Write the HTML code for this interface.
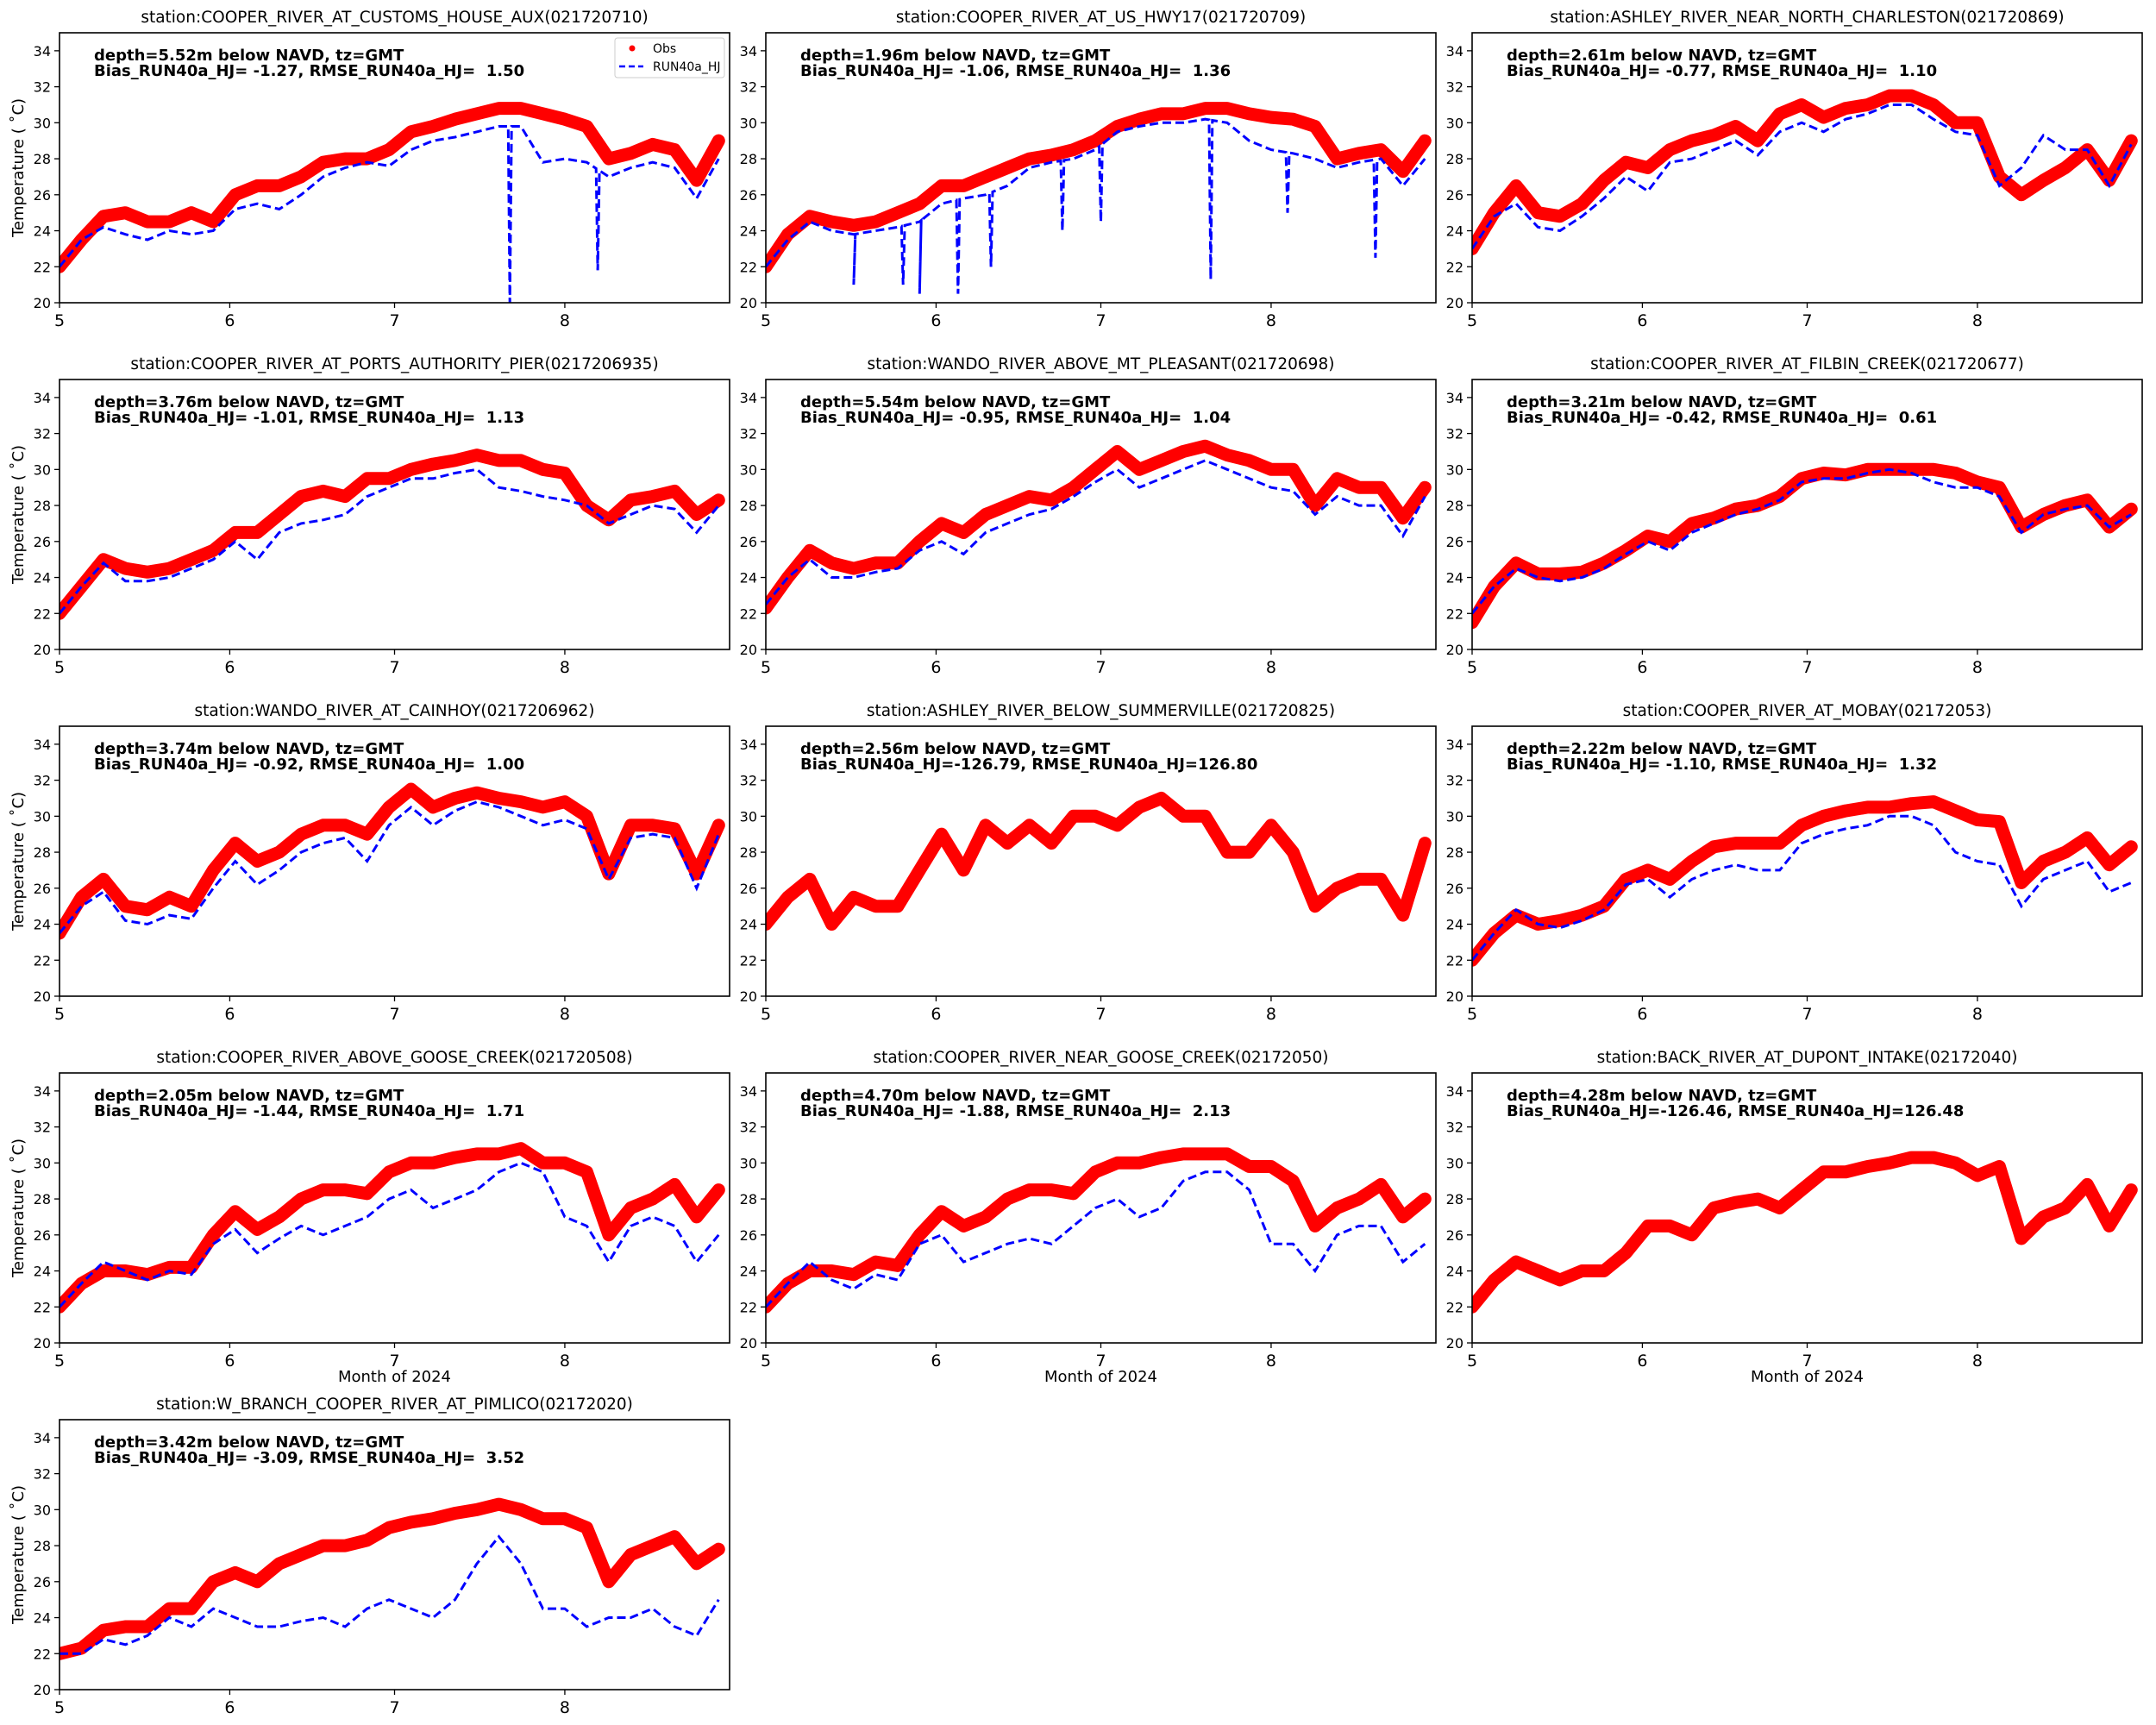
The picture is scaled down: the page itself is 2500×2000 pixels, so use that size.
<!DOCTYPE html>
<html><head><meta charset="utf-8"><style>
html,body{margin:0;padding:0;background:#fff}
svg{display:block}
text{font-family:"DejaVu Sans","Liberation Sans",sans-serif;fill:#000}
</style></head><body>
<svg id="fig" width="2500" height="2000" viewBox="0 0 2500 2000" xmlns="http://www.w3.org/2000/svg"></svg>
<script>
const sampleDays = [0,4,8,12,16,20,24,28,32,36,40,44,48,52,56,60,64,68,72,76,80,84,88,92,96,100,104,108,112,116,120];
const yTicks = [20,22,24,26,28,30,32,34];
const xTickLabels = ['5','6','7','8'];
const xTickDays = [0,31,61,92];
const stationNames = [
 'station:COOPER_RIVER_AT_CUSTOMS_HOUSE_AUX(021720710)',
 'station:COOPER_RIVER_AT_US_HWY17(021720709)',
 'station:ASHLEY_RIVER_NEAR_NORTH_CHARLESTON(021720869)',
 'station:COOPER_RIVER_AT_PORTS_AUTHORITY_PIER(0217206935)',
 'station:WANDO_RIVER_ABOVE_MT_PLEASANT(021720698)',
 'station:COOPER_RIVER_AT_FILBIN_CREEK(021720677)',
 'station:WANDO_RIVER_AT_CAINHOY(0217206962)',
 'station:ASHLEY_RIVER_BELOW_SUMMERVILLE(021720825)',
 'station:COOPER_RIVER_AT_MOBAY(02172053)',
 'station:COOPER_RIVER_ABOVE_GOOSE_CREEK(021720508)',
 'station:COOPER_RIVER_NEAR_GOOSE_CREEK(02172050)',
 'station:BACK_RIVER_AT_DUPONT_INTAKE(02172040)',
 'station:W_BRANCH_COOPER_RIVER_AT_PIMLICO(02172020)'];
const depthLabels = ['5.52','1.96','2.61','3.76','5.54','3.21','3.74','2.56','2.22','2.05','4.70','4.28','3.42'];
const statLabels = [
 'Bias_RUN40a_HJ= -1.27, RMSE_RUN40a_HJ=  1.50',
 'Bias_RUN40a_HJ= -1.06, RMSE_RUN40a_HJ=  1.36',
 'Bias_RUN40a_HJ= -0.77, RMSE_RUN40a_HJ=  1.10',
 'Bias_RUN40a_HJ= -1.01, RMSE_RUN40a_HJ=  1.13',
 'Bias_RUN40a_HJ= -0.95, RMSE_RUN40a_HJ=  1.04',
 'Bias_RUN40a_HJ= -0.42, RMSE_RUN40a_HJ=  0.61',
 'Bias_RUN40a_HJ= -0.92, RMSE_RUN40a_HJ=  1.00',
 'Bias_RUN40a_HJ=-126.79, RMSE_RUN40a_HJ=126.80',
 'Bias_RUN40a_HJ= -1.10, RMSE_RUN40a_HJ=  1.32',
 'Bias_RUN40a_HJ= -1.44, RMSE_RUN40a_HJ=  1.71',
 'Bias_RUN40a_HJ= -1.88, RMSE_RUN40a_HJ=  2.13',
 'Bias_RUN40a_HJ=-126.46, RMSE_RUN40a_HJ=126.48',
 'Bias_RUN40a_HJ= -3.09, RMSE_RUN40a_HJ=  3.52'];
const obs1=[22,23.5,24.8,25,24.5,24.5,25,24.5,26,26.5,26.5,27,27.8,28,28,28.5,29.5,29.8,30.2,30.5,30.8,30.8,30.5,30.2,29.8,28,28.3,28.8,28.5,26.8,29];
const mod1=[22,23.5,24.2,23.8,23.5,24,23.8,24,25.2,25.5,25.2,26,27,27.5,27.8,27.6,28.5,29,29.2,29.5,29.8,29.8,27.8,28,27.8,27,27.5,27.8,27.5,25.8,28];
const obs2=[22,23.8,24.8,24.5,24.3,24.5,25,25.5,26.5,26.5,27,27.5,28,28.2,28.5,29,29.8,30.2,30.5,30.5,30.8,30.8,30.5,30.3,30.2,29.8,28,28.3,28.5,27.3,29];
const mod2=[22,23.5,24.5,24,23.8,24,24.2,24.5,25.5,25.8,26,26.5,27.5,27.8,28,28.5,29.5,29.8,30,30,30.2,30,29,28.5,28.3,28,27.5,27.8,28,26.5,28];
const obs3=[23,25,26.5,25,24.8,25.5,26.8,27.8,27.5,28.5,29,29.3,29.8,29,30.5,31,30.3,30.8,31,31.5,31.5,31,30,30,27,26,26.8,27.5,28.5,26.8,29];
const mod3=[23,24.8,25.5,24.2,24,24.8,25.8,27,26.2,27.8,28,28.5,29,28.2,29.5,30,29.5,30.2,30.5,31,31,30.2,29.5,29.3,26.5,27.5,29.3,28.5,28.5,26.5,28.8];
const obs4=[22,23.5,25,24.5,24.3,24.5,25,25.5,26.5,26.5,27.5,28.5,28.8,28.5,29.5,29.5,30,30.3,30.5,30.8,30.5,30.5,30,29.8,28,27.2,28.3,28.5,28.8,27.5,28.3];
const mod4=[22,23.5,24.8,23.8,23.8,24,24.5,25,26,25,26.5,27,27.2,27.5,28.5,29,29.5,29.5,29.8,30,29,28.8,28.5,28.3,28,27,27.5,28,27.8,26.5,28];
const obs5=[22.3,24,25.5,24.8,24.5,24.8,24.8,26,27,26.5,27.5,28,28.5,28.3,29,30,31,30,30.5,31,31.3,30.8,30.5,30,30,28,29.5,29,29,27.3,29];
const mod5=[22.5,24,25,24,24,24.3,24.5,25.5,26,25.3,26.5,27,27.5,27.8,28.5,29.3,30,29,29.5,30,30.5,30,29.5,29,28.8,27.5,28.5,28,28,26.3,28.5];
const obs6=[21.5,23.5,24.8,24.2,24.2,24.3,24.8,25.5,26.3,26,27,27.3,27.8,28,28.5,29.5,29.8,29.7,30,30,30,30,29.8,29.3,29,26.8,27.5,28,28.3,26.8,27.8];
const mod6=[22,23.5,24.5,24,23.8,24,24.5,25.3,26,25.5,26.5,27,27.5,27.8,28.3,29.3,29.5,29.5,29.8,30,29.8,29.3,29,29,28.5,26.5,27.5,27.8,28,26.8,27.5];
const obs7=[23.5,25.5,26.5,25,24.8,25.5,25,27,28.5,27.5,28,29,29.5,29.5,29,30.5,31.5,30.5,31,31.3,31,30.8,30.5,30.8,30,26.8,29.5,29.5,29.3,26.8,29.5];
const mod7=[23.5,25,25.8,24.2,24,24.5,24.3,26,27.5,26.2,27,28,28.5,28.8,27.5,29.5,30.5,29.5,30.3,30.8,30.5,30,29.5,29.8,29.3,26.5,28.8,29,28.8,26,29];
const obs8=[24,25.5,26.5,24,25.5,25,25,27,29,27,29.5,28.5,29.5,28.5,30,30,29.5,30.5,31,30,30,28,28,29.5,28,25,26,26.5,26.5,24.5,28.5];
const mod8=null;
const obs9=[22,23.5,24.5,24,24.2,24.5,25,26.5,27,26.5,27.5,28.3,28.5,28.5,28.5,29.5,30,30.3,30.5,30.5,30.7,30.8,30.3,29.8,29.7,26.3,27.5,28,28.8,27.3,28.3];
const mod9=[22,23.5,24.8,24,23.8,24.2,24.8,26.2,26.5,25.5,26.5,27,27.3,27,27,28.5,29,29.3,29.5,30,30,29.5,28,27.5,27.3,25,26.5,27,27.5,25.8,26.3];
const obs10=[22,23.3,24,24,23.8,24.2,24.2,26,27.3,26.3,27,28,28.5,28.5,28.3,29.5,30,30,30.3,30.5,30.5,30.8,30,30,29.5,26,27.5,28,28.8,27,28.5];
const mod10=[22,23.3,24.5,24,23.5,24,23.8,25.5,26.3,25,25.8,26.5,26,26.5,27,28,28.5,27.5,28,28.5,29.5,30,29.5,27,26.5,24.5,26.5,27,26.5,24.5,26];
const obs11=[22,23.3,24,24,23.8,24.5,24.3,26,27.3,26.5,27,28,28.5,28.5,28.3,29.5,30,30,30.3,30.5,30.5,30.5,29.8,29.8,29,26.5,27.5,28,28.8,27,28];
const mod11=[22,23.3,24.5,23.5,23,23.8,23.5,25.5,26,24.5,25,25.5,25.8,25.5,26.5,27.5,28,27,27.5,29,29.5,29.5,28.5,25.5,25.5,24,26,26.5,26.5,24.5,25.5];
const obs12=[22,23.5,24.5,24,23.5,24,24,25,26.5,26.5,26,27.5,27.8,28,27.5,28.5,29.5,29.5,29.8,30,30.3,30.3,30,29.3,29.8,25.8,27,27.5,28.8,26.5,28.5];
const mod12=null;
const obs13=[22,22.3,23.3,23.5,23.5,24.5,24.5,26,26.5,26,27,27.5,28,28,28.3,29,29.3,29.5,29.8,30,30.3,30,29.5,29.5,29,26,27.5,28,28.5,27,27.8];
const mod13=[22,22,22.8,22.5,23,24,23.5,24.5,24,23.5,23.5,23.8,24,23.5,24.5,25,24.5,24,25,27,28.5,27,24.5,24.5,23.5,24,24,24.5,23.5,23,25];
const spikeDays1=[82,98]; const spikeVals1=[20,21.8];
const spikeDays2=[16,25,28,35,41,54,61,81,95,111]; const spikeVals2=[21,21,20.5,20.5,22,24,24.5,21.3,25,22.5];

const obsAll=[obs1,obs2,obs3,obs4,obs5,obs6,obs7,obs8,obs9,obs10,obs11,obs12,obs13];
const modAll=[mod1,mod2,mod3,mod4,mod5,mod6,mod7,mod8,mod9,mod10,mod11,mod12,mod13];
const spikesAll={0:[spikeDays1,spikeVals1],1:[spikeDays2,spikeVals2]};

const NS='http://www.w3.org/2000/svg';
const svg=document.getElementById('fig');
function mk(tag,attrs,parent){const e=document.createElementNS(NS,tag);for(const k in attrs)e.setAttribute(k,attrs[k]);(parent||svg).appendChild(e);return e;}
const W=777,H=313,DAYMAX=122,YMIN=20,YMAX=35;
for(let i=0;i<13;i++){
  const col=i%3,row=Math.floor(i/3);
  const L=69+col*819,T=38+row*402;
  const xs=d=>L+d/DAYMAX*W;
  const ys=v=>T+H-(v-YMIN)/(YMAX-YMIN)*H;
  const g=mk('g',{});
  
  
  const clipId='c'+i;
  const cp=mk('clipPath',{id:clipId},g);mk('rect',{x:L,y:T,width:W,height:H},cp);
  const t=mk('text',{x:L+W/2,y:T-12,'text-anchor':'middle','font-size':'18.5'},g);
  t.textContent=stationNames[i];
  
  
  const plot=mk('g',{'clip-path':'url(#'+clipId+')'},g);
  const op=sampleDays.map((d,k)=>xs(d).toFixed(1)+','+ys(obsAll[i][k]).toFixed(1)).join(' ');
  const ol=mk('polyline',{points:op,fill:'none',stroke:'#ff0000','stroke-width':'15','stroke-linejoin':'round','stroke-linecap':'round'},plot);
  
  
  if(modAll[i]){
    const pts=sampleDays.map((d,k)=>[d,modAll[i][k]]);
    if(spikesAll[i]){const [sd,sv]=spikesAll[i];sd.forEach((d,k)=>{pts.push([d-0.3,NaN]);pts.push([d,sv[k]]);});}
    pts.sort((a,b)=>a[0]-b[0]);
    const base=d=>{let k=Math.min(Math.floor(d/4),29);const f=(d-sampleDays[k])/4;return modAll[i][k]*(1-f)+modAll[i][k+1]*f;};
    const fin=[];pts.forEach(p=>{if(isNaN(p[1])){fin.push([p[0],base(p[0])]);}else fin.push(p);if(spikesAll[i]&&spikesAll[i][0].includes(p[0]))fin.push([p[0]+0.3,base(p[0]+0.3)]);});
    const mp=fin.map(p=>xs(p[0]).toFixed(1)+','+ys(p[1]).toFixed(1)).join(' ');
    const ml=mk('polyline',{points:mp,fill:'none',stroke:'#0000ff','stroke-width':'3','stroke-dasharray':'10,5'},plot);
    
    
  }
  const fr=mk('rect',{x:L,y:T,width:W,height:H,fill:'none',stroke:'#000','stroke-width':'1.6'},g);
  
  
  yTicks.forEach(v=>{
    mk('line',{x1:L-6,x2:L,y1:ys(v),y2:ys(v),stroke:'#000','stroke-width':'1.3'},g);
    const tl=mk('text',{x:L-10,y:ys(v)+6,'text-anchor':'end','font-size':'16'},g);
    tl.textContent=v;
    
    
  });
  xTickDays.forEach((d,k)=>{
    mk('line',{x1:xs(d),x2:xs(d),y1:T+H,y2:T+H+6,stroke:'#000','stroke-width':'1.3'},g);
    const tl=mk('text',{x:xs(d),y:T+H+27,'text-anchor':'middle','font-size':'19'},g);
    tl.textContent=xTickLabels[k];
    
    
  });
  if(col===0){
    const yl=mk('text',{x:0,y:0,'text-anchor':'middle','font-size':'18',transform:'translate('+(L-42)+','+(T+H/2)+') rotate(-90)'},g);
    yl.textContent='Temperature ( \u02DAC)';
    
    
  }
  if(row===3){
    const xl=mk('text',{x:L+W/2,y:T+H+45,'text-anchor':'middle','font-size':'18'},g);
    xl.textContent='Month of 2024';
    
    
  }
  const a1=mk('text',{x:L+40,y:T+32,'font-size':'18','font-weight':'bold'},g);
  a1.textContent='depth='+depthLabels[i]+'m below NAVD, tz=GMT';
  
  
  const a2=mk('text',{x:L+40,y:T+50,'font-size':'18','font-weight':'bold'},g);
  a2.setAttribute('style','white-space:pre');
  a2.textContent=statLabels[i];
  
  
  if(i===0){
    const lg=mk('g',{},g);
    
    
    mk('rect',{x:713,y:44,width:127,height:46,rx:3,fill:'#fff','fill-opacity':'0.85',stroke:'#ccc','stroke-width':'1'},lg);
    mk('circle',{cx:733,cy:56,r:3.5,fill:'#ff0000'},lg);
    const e1=mk('text',{x:757,y:61,'font-size':'14'},lg);e1.textContent='Obs';
    
    
    mk('line',{x1:718,x2:746,y1:77,y2:77,stroke:'#0000ff','stroke-width':'2.5','stroke-dasharray':'7,4'},lg);
    const e2=mk('text',{x:757,y:82,'font-size':'14'},lg);e2.textContent='RUN40a_HJ';
    
    
  }
}
</script>
</body></html>
